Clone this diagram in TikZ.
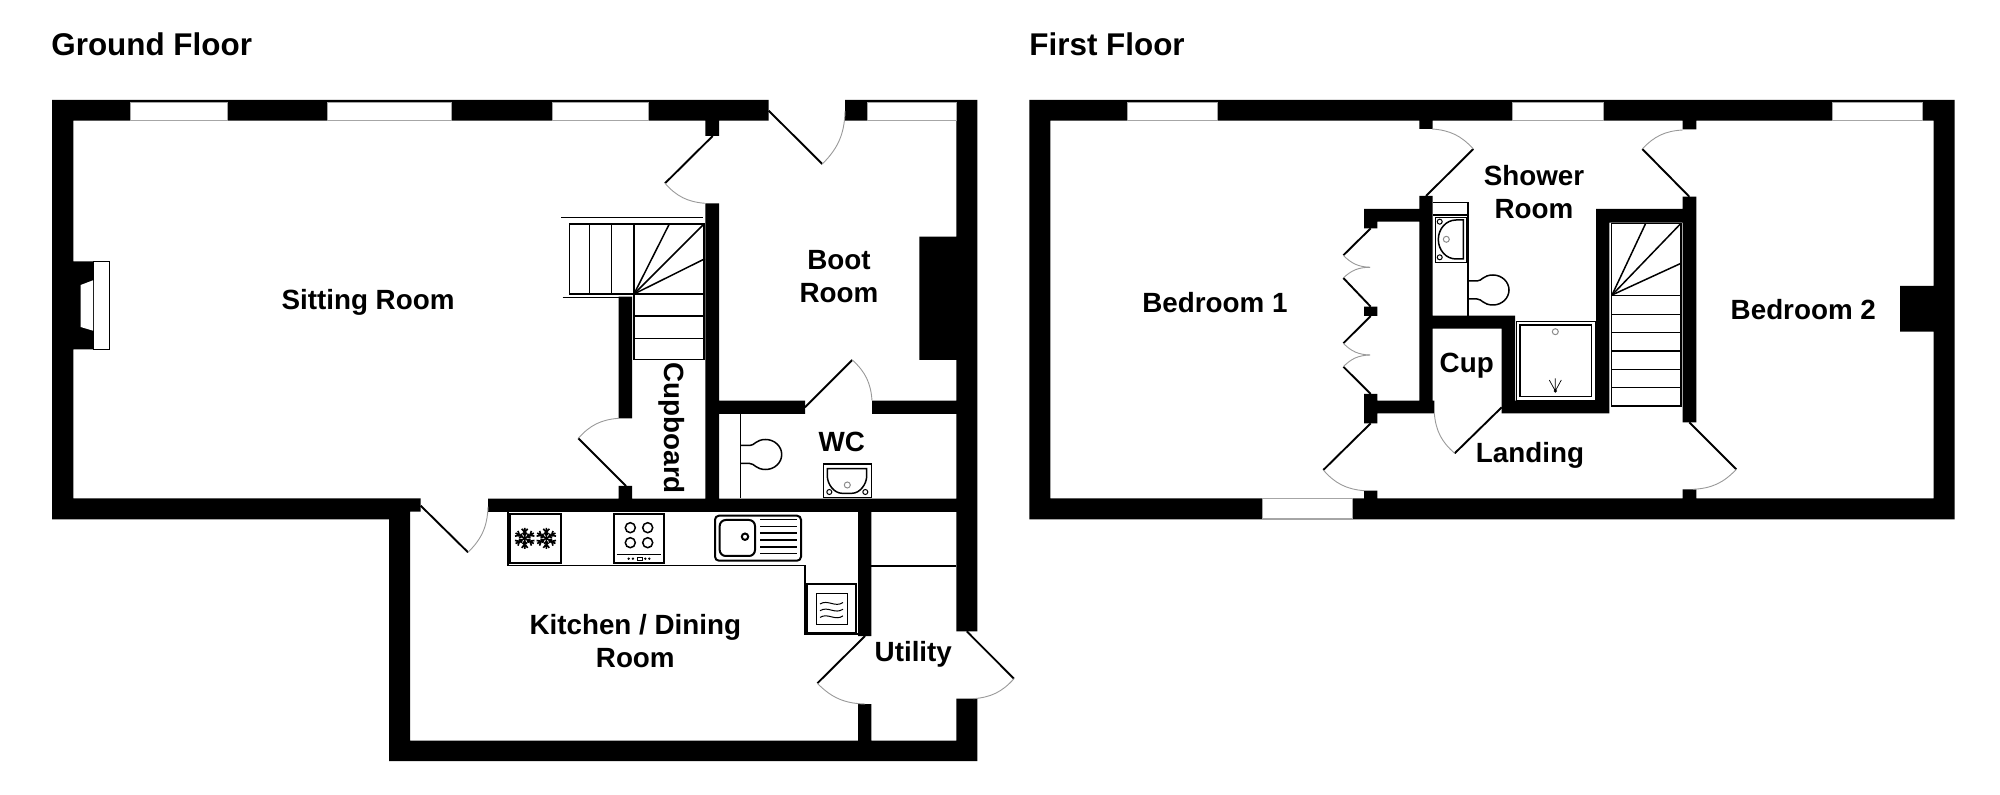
\documentclass[tikz,border=0pt]{standalone}
\usepackage{fontspec}
\setmainfont{Liberation Sans}
\usetikzlibrary{positioning}
\tikzstyle{wall}=[fill=black]
\tikzstyle{pane}=[fill=white, draw=black!35, line width=0.25pt]
\tikzstyle{doorline}=[draw=black, line width=0.95pt]
\tikzstyle{doorarc}=[draw=black!40, line width=0.45pt]
\tikzstyle{fitting}=[draw=black, line width=0.75pt]
\tikzstyle{unit}=[draw=black, line width=1pt]
\tikzstyle{greyring}=[draw=black!45, line width=0.5pt]
\tikzstyle{roomlabel}=[font=\fontsize{13.9}{16.5}\selectfont\bfseries, align=center, inner sep=0pt]
\tikzstyle{floorlabel}=[font=\fontsize{15.7}{18}\selectfont\bfseries, anchor=west, inner sep=0pt]
\newcommand{\swingdoor}[4]{
 \draw[doorline] (#1) -- (#2);
 \draw[doorarc] (#2) to[bend #4=22] (#3);}
\newcommand{\toiletpan}[1]{
 \draw[fitting, shift={(#1)}] (0,-9) -- (9,-9) .. controls (14,-9) and (15,-15) .. (25,-15) .. controls (34,-15) and (41,-8) .. (41,0) .. controls (41,8) and (34,15) .. (25,15) .. controls (15,15) and (14,9) .. (9,9) -- (0,9);}
\newcommand{\snowflake}[1]{
 \foreach \ang in {30,90,...,330} {
  \draw[black, line width=0.8pt, shift={(#1)}, rotate=\ang] (0,0) -- (10.5,0) (3,0) -- (5.5,2.2) (3,0) -- (5.5,-2.2) (6,0) -- (9.5,3) (6,0) -- (9.5,-3);}}

\begin{document}
\begin{tikzpicture}[x=0.5pt, y=-0.5pt]
\useasboundingbox (0,0) rectangle (2000,795);

\node[floorlabel] (ground) at (51,44) {Ground Floor};
\node[floorlabel] (first) at (1029,44) {First Floor};

% ground floor walls
\fill[wall] (52,100) rectangle (73.3,519.3) (52,100) rectangle (768.7,120.7) (845,100) rectangle (977.3,120.7)
 (956.3,100) rectangle (977.3,631.3) (956.3,698.7) rectangle (977.3,761) (389,740.7) rectangle (977.3,761)
 (389,498.3) rectangle (410,761) (52,498.3) rectangle (389.3,519.3) (52,498.3) rectangle (420.7,511.7)
 (488,498.7) rectangle (956.3,512) (73.3,261.3) rectangle (93.7,349.3) (705.3,120) rectangle (719,136)
 (705.3,203.3) rectangle (719,499) (919.3,236.7) rectangle (956.3,360) (719,400.7) rectangle (805,414)
 (872,400.7) rectangle (956.3,414) (618.7,296.7) rectangle (632,418.3) (618.7,486) rectangle (632,499)
 (858,512) rectangle (871.3,636) (858,704) rectangle (871.3,741);

% first floor walls
\fill[wall] (1029.3,100) rectangle (1050.3,519.3) (1029.3,100) rectangle (1954.7,120.7) (1933.7,100) rectangle (1954.7,519.3)
 (1029.3,498.3) rectangle (1954.7,519.3) (1900,286) rectangle (1934,331.7) (1419.3,120) rectangle (1432.7,129)
 (1419.3,196) rectangle (1432.7,413.3) (1364,209) rectangle (1420,221.7) (1364,209) rectangle (1377.3,228.3)
 (1364,306.7) rectangle (1377.3,316) (1364,394) rectangle (1377.3,423.3) (1364,400.7) rectangle (1434.3,413.3)
 (1364,490.7) rectangle (1377.3,499) (1432,315.7) rectangle (1515,328.7) (1501.7,315.7) rectangle (1515,413.3)
 (1501.7,400.7) rectangle (1609.3,413.3) (1596,209) rectangle (1609.3,413.3) (1596,209) rectangle (1683,222.7)
 (1682.7,196.7) rectangle (1696.3,422.3) (1682.7,120) rectangle (1696.3,129.3) (1682.7,489.3) rectangle (1696.3,499);

% windows
\path[pane] (130,102) rectangle (227,120.7);
\path[pane] (327.7,102) rectangle (451.3,120.7);
\path[pane] (552,102) rectangle (648.3,120.7);
\path[pane] (867,102) rectangle (956.3,120.7);
\path[pane] (1127,102) rectangle (1217.3,120.7);
\path[pane] (1512.7,102) rectangle (1603.3,120.7);
\path[pane] (1832.3,102) rectangle (1922.7,120.7);
\path[pane] (1262.3,498.3) rectangle (1352.7,518);

% fireplace
\draw[fill=white, draw=black, line width=0.5pt] (93.7,261.3) rectangle (109,349.3);
\fill[white] (80.7,285) -- (93,280.3) -- (93,330.7) -- (80.7,327) -- cycle;

% doors
\swingdoor{768.7,110.7}{822.3,164}{845,111}{right}
\swingdoor{712.7,136}{665,183.3}{705,203.3}{right}
\swingdoor{626,486}{578.3,438.3}{618.7,418.3}{left}
\swingdoor{805,407.3}{852.3,360}{872,400.7}{left}
\swingdoor{420.7,505.7}{468,552.3}{488,506.7}{right}
\swingdoor{966.7,631.3}{1014,678.7}{973,698.7}{left}
\swingdoor{865,636}{817.3,683.3}{865,704}{right}
\swingdoor{1426,196}{1473.3,149}{1432,129}{right}
\swingdoor{1689.3,196.7}{1642.3,149}{1682.7,130}{left}
\swingdoor{1370.7,423.3}{1323.3,470}{1364,490.7}{right}
\swingdoor{1689.3,422.3}{1736.3,469.3}{1693,489.3}{left}
\swingdoor{1501.7,407.3}{1454.7,453.3}{1434.3,413.3}{left}
\swingdoor{1370.7,228.3}{1343.3,255.3}{1370,267.3}{right}
\swingdoor{1370.7,306.7}{1343.3,278}{1370,267.3}{left}
\swingdoor{1370.7,316}{1343.3,343.3}{1370,355}{right}
\swingdoor{1370.7,394}{1343.3,366.7}{1370,355}{left}

% ground floor stairs
\draw[fitting] (561,217.7) -- (703.3,217.7);
\draw[fitting] (562.7,297.7) -- (618.7,297.7);
\draw[fitting] (569.3,224) rectangle (634,294);
\draw[fitting] (589.7,224) -- (589.7,294);
\draw[fitting] (611.7,224) -- (611.7,294);
\draw[fitting] (634,224) -- (704,224) -- (704,359.3) -- (634,359.3) -- (634,294);
\draw[fitting] (634,294) -- (669.3,224);
\draw[fitting] (634,294) -- (704,224);
\draw[fitting] (634,294) -- (705,258.7);
\draw[fitting] (634,294) -- (705,294);
\draw[fitting] (634,316) -- (705,316);
\draw[fitting] (634,338.3) -- (705,338.3);

% first floor stairs
\draw[fitting] (1611.7,223.3) rectangle (1681,406);
\draw[fitting] (1612,295) -- (1645.7,223.3);
\draw[fitting] (1612,295) -- (1681,223.3);
\draw[fitting] (1612,295) -- (1681,263.3);
\draw[fitting] (1611.7,295.7) -- (1681,295.7);
\draw[fitting] (1611.7,314.3) -- (1681,314.3);
\draw[fitting] (1611.7,332.7) -- (1681,332.7);
\draw[fitting] (1611.7,351) -- (1681,351);
\draw[fitting] (1611.7,369.3) -- (1681,369.3);
\draw[fitting] (1611.7,387.7) -- (1681,387.7);

% wc
\draw[fitting] (740.7,414) -- (740.7,498.3);
\toiletpan{740.7,454.5}
\draw[fitting] (823.3,464) rectangle (871.3,497.3);
\draw[fitting] (827.3,468.7) -- (866.7,468.7) -- (866.7,476) .. controls (866.7,484) and (860,493.3) .. (852,493.3) -- (842,493.3) .. controls (834,493.3) and (827.3,484) .. (827.3,476) -- cycle;
\draw[fitting, line width=0.5pt, fill=white] (829.3,492) circle (2.5) (865.3,492) circle (2.5);
\draw[greyring] (847.3,485) circle (3);

% shower room
\draw[fitting] (1433.3,202.7) -- (1468,202.7) -- (1468,315.7);
\draw[fitting] (1433.3,215) -- (1468,215);
\draw[fitting] (1435.7,217.3) rectangle (1467,262.3);
\draw[fitting] (1463.3,220) -- (1463.3,259) -- (1456,259) .. controls (1446,259) and (1438.3,250) .. (1438.3,239.5) .. controls (1438.3,229) and (1446,220) .. (1456,220) -- cycle;
\draw[fitting, line width=0.5pt, fill=white] (1439.7,221.7) circle (2.5) (1439.7,257.3) circle (2.5);
\draw[greyring] (1446.3,239.3) circle (3);
\toiletpan{1468,290}
\draw[fitting, line width=0.4pt] (1516.3,321.7) rectangle (1595,400);
\draw[fitting, line width=0.6pt] (1520,325) rectangle (1591.7,396.7);
\draw[greyring] (1555.3,331.7) circle (3);
\fill (1555.3,391) circle (1.8);
\draw[black, line width=0.35pt] (1555.3,391) -- (1549.3,380) (1555.3,391) -- (1555.3,378.3) (1555.3,391) -- (1561.3,380);

% kitchen worktop
\draw[fitting, line width=0.8pt] (508,512) -- (508,565.7) -- (805,565.7) -- (805,634) -- (858,634);
\draw[black, line width=0.65pt] (871.3,566) -- (956.3,566);
\draw[unit] (510,514) rectangle (560.7,563.3);
\snowflake{524.7,538.3}
\snowflake{546.3,538.3}
\draw[unit] (613.7,514) rectangle (664.3,563.3);
\draw[fitting] (630.3,527.7) circle (5) (647.7,527.7) circle (5) (630.3,542.7) circle (5) (647.7,542.7) circle (5);
\draw[fitting, line width=0.5pt] (616.7,555) -- (661,555);
\fill (628.7,558.7) circle (1.3) (632.9,558.7) circle (1.3) (645.3,558.7) circle (1.3) (649.3,558.7) circle (1.3);
\draw[black, line width=0.3pt] (637,557.3) rectangle (642,560);
\draw[unit, rounded corners=2pt] (715,515.7) rectangle (801,560.7);
\draw[unit, rounded corners=3pt] (719.7,520) rectangle (755,556);
\draw[unit] (745,536.7) circle (3.2);
\draw[fitting] (760,519.5) -- (797.3,519.5);
\draw[fitting] (760,526.5) -- (797.3,526.5);
\draw[fitting] (760,533.2) -- (797.3,533.2);
\draw[fitting] (760,540) -- (797.3,540);
\draw[fitting] (760,546.8) -- (797.3,546.8);
\draw[fitting] (760,553.5) -- (797.3,553.5);
\draw[unit] (806.7,584) rectangle (856,633.3);
\draw[fitting, line width=0.5pt] (816,593.3) rectangle (847,624.3);
\draw[fitting, line width=0.5pt] (820,604) .. controls (828,599) and (835,608) .. (843,602.5);
\draw[fitting, line width=0.5pt] (820,610.7) .. controls (828,605.7) and (835,614.7) .. (843,609.2);
\draw[fitting, line width=0.5pt] (820,617.4) .. controls (828,612.4) and (835,621.4) .. (843,615.9);

% labels
\node[roomlabel] (sitting) at (368,302) {Sitting Room};
\node[roomlabel] (boot) at (839,277) {Boot\\Room};
\node[roomlabel] (wc) at (841.7,442) {WC};
\node[roomlabel, rotate=-90] (cupboard) at (671.7,428.3) {Cupboard};
\node[roomlabel] (kitchen) at (635.3,641) {Kitchen / Dining\\Room};
\node[roomlabel] (utility) at (913.3,654) {Utility};
\node[roomlabel] (bed1) at (1215,302.5) {Bedroom 1};
\node[roomlabel] (bed2) at (1803.3,309.5) {Bedroom 2};
\node[roomlabel] (shower) at (1534,192) {Shower\\Room};
\node[roomlabel] (cup) at (1466.7,366) {Cup};
\node[roomlabel] (landing) at (1530,455.5) {Landing};

\end{tikzpicture}
\end{document}
